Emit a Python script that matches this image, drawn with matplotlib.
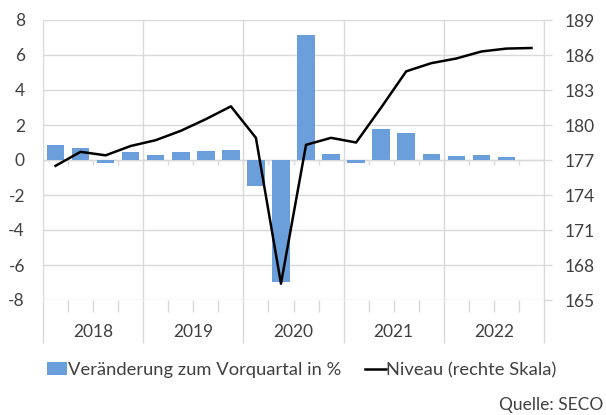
import matplotlib
matplotlib.use('Agg')
import matplotlib.pyplot as plt
import numpy as np

# quarterly data 2018 Q1 .. 2022 Q4
years = ['2018', '2019', '2020', '2021', '2022']
change = [0.86, 0.70, -0.19, 0.44,
          0.29, 0.44, 0.53, 0.57,
          -1.49, -6.95, 7.14, 0.34,
          -0.19, 1.77, 1.54, 0.34,
          0.25, 0.29, 0.17, np.nan]
level = [176.5, 177.7, 177.4, 178.2,
         178.7, 179.5, 180.5, 181.6,
         178.9, 166.4, 178.3, 178.9,
         178.5, 181.5, 184.6, 185.3,
         185.7, 186.3, 186.55, 186.6]

grey = '#d9d9d9'
txt = '#404040'
plt.rcParams['font.family'] = ['Lato', 'DejaVu Sans']
plt.rcParams['font.size'] = 12
plt.rcParams['axes.unicode_minus'] = False

fig = plt.figure(figsize=(6.06, 4.15), dpi=100)
ax1 = fig.add_axes([43/606, 1 - 300/415, 501/606, 280/415])
ax2 = ax1.twinx()

x = np.arange(len(change))
ax1.bar(x, change, width=0.7, color='#6a9fdb', zorder=2,
        label='Veränderung zum Vorquartal in %')
ax2.plot(x, level, color='black', lw=1.8, zorder=3,
         label='Niveau (rechte Skala)')

ax1.set_xlim(-0.5, len(change) - 0.5)
ax1.set_ylim(-8, 8)
ax1.set_yticks(np.arange(-8, 9, 2))
ax2.set_ylim(165, 189)
ax2.set_yticks(np.arange(165, 190, 3))

for a in (ax1, ax2):
    for s in a.spines.values():
        s.set_visible(False)
ax2.spines['right'].set_visible(True)
ax2.spines['right'].set_color(grey)

ax1.yaxis.grid(True, color=grey, lw=1, zorder=0)
ax1.set_axisbelow(True)
ax1.tick_params(axis='y', length=0, pad=13, colors=txt, labelsize=12.5)
ax2.tick_params(axis='y', length=6, width=1, color=grey, pad=9,
                labelcolor=txt, labelsize=12.5)

# year boundaries and quarter ticks below the plot
bounds = np.arange(-0.5, len(change), 4)
for b in bounds:
    ax1.axvline(b, color=grey, lw=1, zorder=0)
ax1.set_xticks(bounds)
ax1.set_xticks(np.arange(-0.5, len(change), 1), minor=True)
ax1.set_xticklabels([])
ax1.tick_params(axis='x', which='major', length=31, width=1, color=grey)
ax1.tick_params(axis='x', which='minor', length=8.4, width=1, color=grey)
for i, yr in enumerate(years):
    ax1.text(4 * i + 1.5, -32 / 280, yr, transform=ax1.get_xaxis_transform(),
             ha='center', va='center', color=txt, fontsize=12.5)

# category axis line at zero with small ticks
ax1.axhline(0, color=grey, lw=1, zorder=1)
ax1.vlines(np.arange(-0.5, len(change), 1), 0, -0.29, color=grey, lw=1, zorder=1)

h1, l1 = ax1.get_legend_handles_labels()
h2, l2 = ax2.get_legend_handles_labels()
leg = fig.legend(h1 + h2, l1 + l2, loc='center', ncol=2,
                 bbox_to_anchor=(302/606, 1 - 370/415), frameon=False,
                 handlelength=1.1, handleheight=0.7, handletextpad=0.05,
                 columnspacing=1.3, fontsize=13.2)
for t in leg.get_texts():
    t.set_color(txt)

fig.text(603/606, 1 - 405/415, 'Quelle: SECO', ha='right', va='center',
         color=txt, fontsize=12.5)

fig.savefig('out.png', dpi=100)
